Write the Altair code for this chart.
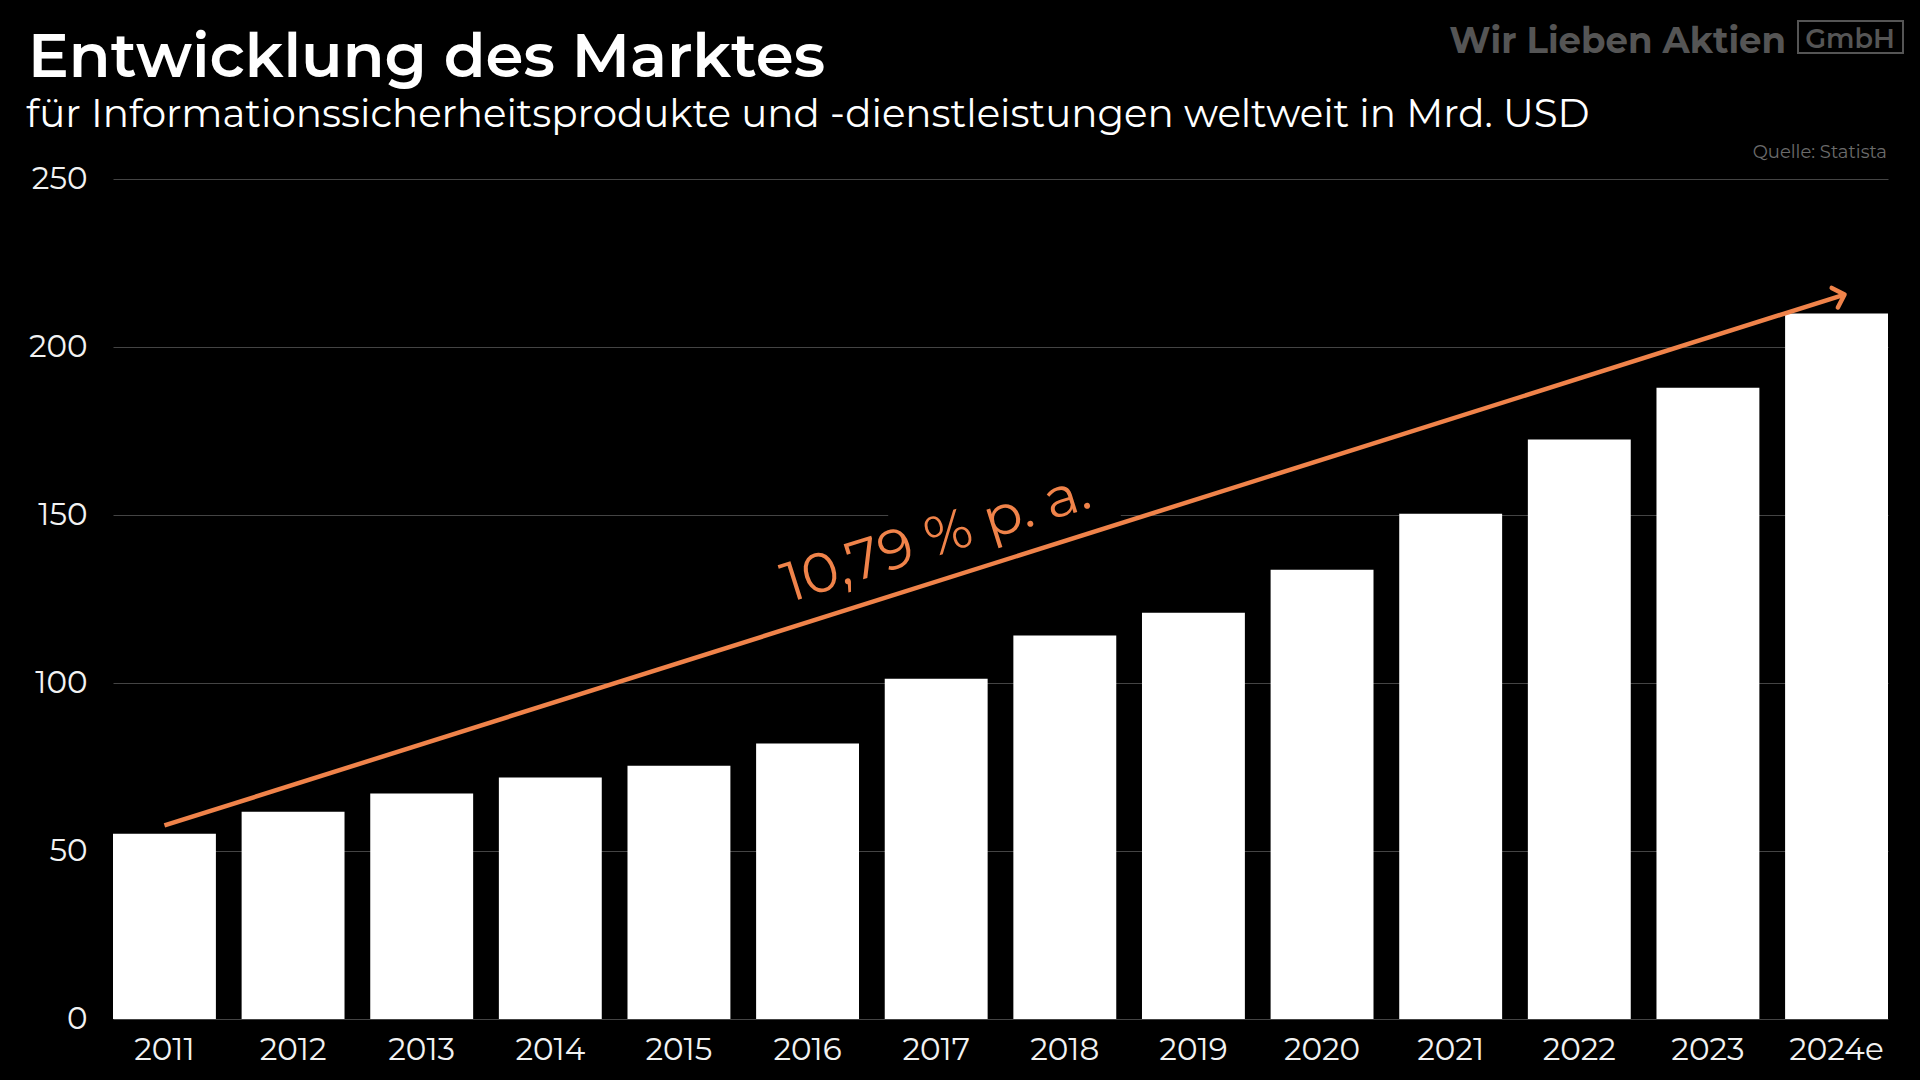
import altair as alt
import pandas as pd

# ---------------- data ----------------
years = ["2011", "2012", "2013", "2014", "2015", "2016", "2017",
         "2018", "2019", "2020", "2021", "2022", "2023", "2024e"]
values = [55.1, 61.7, 67.1, 71.9, 75.4, 82.0, 101.3,
          114.1, 120.9, 133.7, 150.4, 172.5, 187.9, 210.0]
y_ticks = [0, 50, 100, 150, 200, 250]

arrow_years = ["2011", "2024e"]
arrow_values = [57.6, 215.6]
growth_label = ["10,79 % p. a."]
growth_year = ["2017"]
growth_value = [143]

title_text = ["Entwicklung des Marktes"]
subtitle_text = ["für Informationssicherheitsprodukte und -dienstleistungen weltweit in Mrd. USD"]
logo_text = ["Wir Lieben Aktien"]
logo_box_text = ["GmbH"]
source_text = ["Quelle: Statista"]

# ---------------- style ----------------
FONT = "Montserrat, Noto Sans, sans-serif"
ORANGE = "#F0834A"
GRID = "#444444"
LOGO_GRAY = "#555555"
W, H = 1775, 840
LEFT, TOP = 113, 179

xscale = alt.Scale(domain=years, paddingInner=0.2, paddingOuter=0)
yscale = alt.Scale(domain=[0, 250])

AX_X = alt.Axis(title=None, labelAngle=0, domain=False, ticks=False,
                labelFontSize=31, labelColor="#f2f2f2", labelFont=FONT,
                labelPadding=16, grid=False)
AX_Y = alt.Axis(title=None, values=y_ticks, domain=False, ticks=False,
                labelFontSize=31, labelColor="#f2f2f2", labelFont=FONT,
                labelPadding=26, grid=True, gridColor=GRID, gridWidth=1.2)


def X(field):
    return alt.X(field, scale=xscale, sort=None, axis=AX_X)


def Y(field):
    return alt.Y(field, scale=yscale, axis=AX_Y)


df = pd.DataFrame({"year": years, "value": values})
bars = alt.Chart(df).mark_bar(color="white").encode(x=X("year:N"), y=Y("value:Q"))

# gap in the 150 gridline behind the growth label
gap_df = pd.DataFrame({"year": ["2017"], "year_end": ["2018"], "value": [150]})
gap = alt.Chart(gap_df).mark_rule(color="black", strokeWidth=4, xOffset=-48, x2Offset=56).encode(
    x=X("year:N"), x2="year_end:N", y=Y("value:Q"))

arrow_df = pd.DataFrame({"year": [arrow_years[0]], "year_end": [arrow_years[1]],
                         "value": [arrow_values[0]], "value_end": [arrow_values[1]]})
arrow = alt.Chart(arrow_df).mark_rule(color=ORANGE, strokeWidth=4.5, x2Offset=8).encode(
    x=X("year:N"), x2="year_end:N", y=Y("value:Q"), y2="value_end:Q")

head_df = pd.DataFrame({"year": [arrow_years[1]], "value": [arrow_values[1]]})
head = alt.Chart(head_df).mark_point(
    shape="M -1 -1 L 0 0 L -1 1", filled=False, size=420, strokeWidth=4.5,
    color=ORANGE, opacity=1, angle=342.5, xOffset=8, strokeCap="round", strokeJoin="round"
).encode(x=X("year:N"), y=Y("value:Q"))

label_df = pd.DataFrame({"year": growth_year, "value": growth_value, "label": growth_label})
label = alt.Chart(label_df).mark_text(
    angle=342.5, fontSize=56, color=ORANGE, font=FONT, align="center", baseline="middle"
).encode(x=X("year:N"), y=Y("value:Q"), text="label:N")


def deco(texts, x, y, **kw):
    d = pd.DataFrame({"t": texts})
    return alt.Chart(d).mark_text(font=FONT, baseline="alphabetic", **kw).encode(
        x=alt.value(x - LEFT), y=alt.value(y - TOP), text="t:N")


title = deco(title_text, 28, 77, fontSize=61, fontWeight=600, color="white", align="left")
subtitle = deco(subtitle_text, 26, 127, fontSize=38.8, color="white", align="left")
logo = deco(logo_text, 1786, 53, fontSize=35.5, fontWeight="bold", color=LOGO_GRAY, align="right")
gmbh = deco(logo_box_text, 1850, 48, fontSize=27, fontWeight=600, color=LOGO_GRAY, align="center")
source = deco(source_text, 1887, 158, fontSize=18, color="#6b6b6b", align="right")

box_df = pd.DataFrame({"t": [0]})
box = alt.Chart(box_df).mark_rect(fill="black", stroke=LOGO_GRAY, strokeWidth=2).encode(
    x=alt.value(1798 - LEFT), x2=alt.value(1903 - LEFT),
    y=alt.value(21 - TOP), y2=alt.value(53 - TOP),
)

chart = alt.layer(bars, gap, arrow, head, label, title, subtitle, logo, box, gmbh, source).properties(
    width=W, height=H,
    padding={"left": LEFT, "top": TOP, "right": 1920 - LEFT - W, "bottom": 1080 - TOP - H},
    autosize=alt.AutoSizeParams(type="none"),
    background="black",
).configure_view(stroke=None)

chart.save("out.html", embed_options={"renderer": "svg", "actions": False})
